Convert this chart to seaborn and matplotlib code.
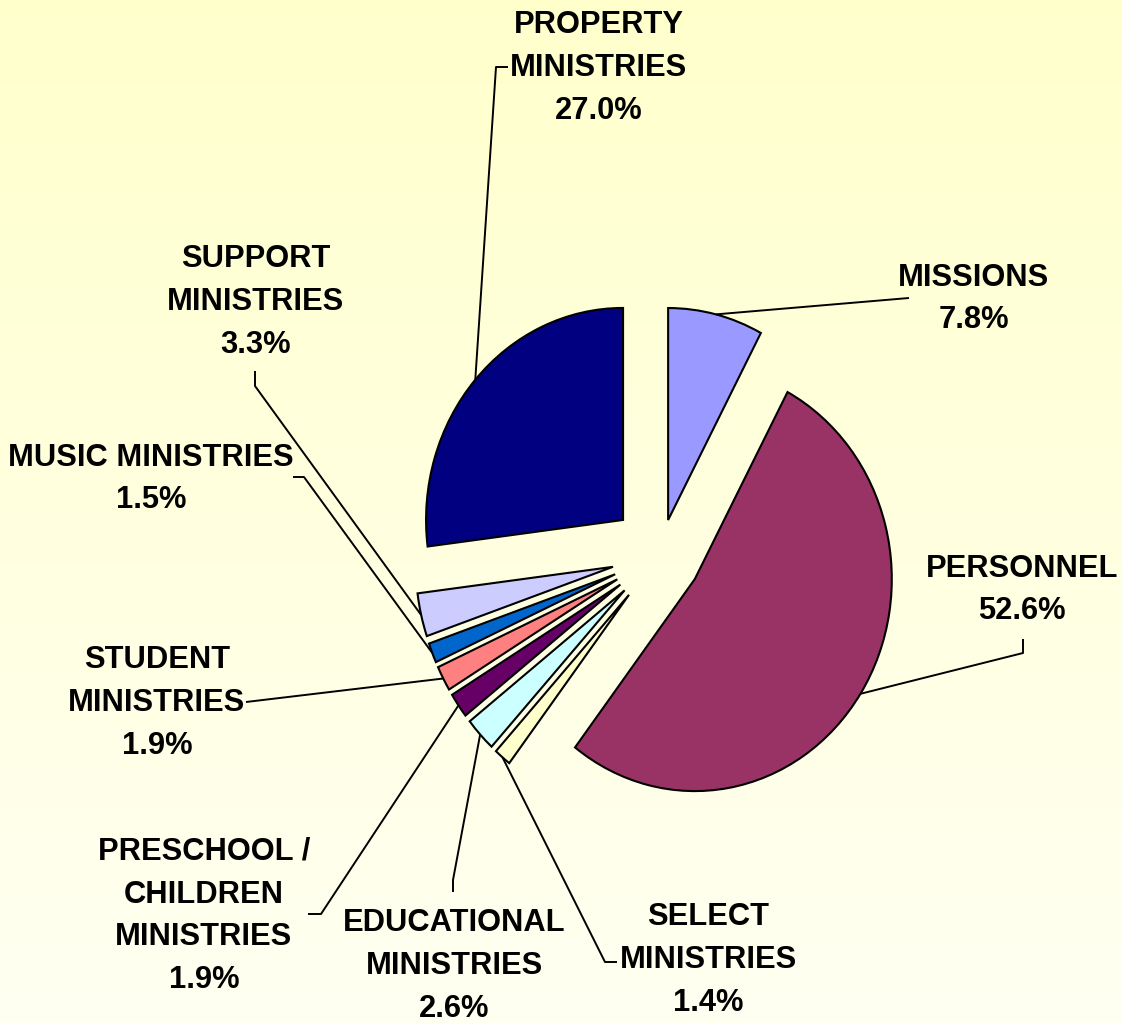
import numpy as np
import matplotlib
matplotlib.use("Agg")
import matplotlib.pyplot as plt
import seaborn as sns

# ==============================
# Data
# ==============================
categories = ["MISSIONS", "PERSONNEL", "SELECT MINISTRIES", "EDUCATIONAL MINISTRIES",
              "PRESCHOOL / CHILDREN MINISTRIES", "STUDENT MINISTRIES", "MUSIC MINISTRIES",
              "SUPPORT MINISTRIES", "PROPERTY MINISTRIES"]
shares = [7.8, 52.6, 1.4, 2.6, 1.9, 1.9, 1.5, 3.3, 27.0]
label_text = ["MISSIONS", "PERSONNEL", "SELECT\nMINISTRIES", "EDUCATIONAL\nMINISTRIES",
              "PRESCHOOL /\nCHILDREN\nMINISTRIES", "STUDENT\nMINISTRIES", "MUSIC MINISTRIES",
              "SUPPORT\nMINISTRIES", "PROPERTY\nMINISTRIES"]
colors = ["#9999FF", "#993366", "#FFFFCC", "#CCFFFF", "#660066",
          "#FF8080", "#0066CC", "#CCCCFF", "#000080"]
explode = [0.17, 0.21, 0.245, 0.245, 0.245, 0.245, 0.245, 0.245, 0.25]

# label layout in pixels (centre of text block), leader elbow/end in pixels
label_pos = [(974, 299), (1022, 590), (708, 960), (454, 966), (204, 916),
             (157, 703), (151, 479), (256, 302), (599, 68)]
leader_pts = [
    [(909, 298)],
    [(1023, 653), (1023, 639)],
    [(605, 962), (617, 962)],
    [(453, 880), (453, 892)],
    [(321, 914), (308, 914)],
    [(246, 702)],
    [(304, 477), (293, 477)],
    [(255, 386), (255, 371)],
    [(496, 67), (508, 67)],
]

# ==============================
# Figure
# ==============================
sns.set_theme(style="white")
plt.rcParams["font.family"] = ["Liberation Sans", "DejaVu Sans"]

W, H = 1122, 1024
cx, cy, rx, ry = 660, 555, 197, 212

fig = plt.figure(figsize=(W / 100, H / 100), dpi=100)
ax = fig.add_axes([0, 0, 1, 1])

xlim = (-cx / rx, (W - cx) / rx)
ylim = ((cy - H) / ry, cy / ry)

def px(x, y):
    return ((x - cx) / rx, (cy - y) / ry)

# background gradient
grad = np.linspace(0, 1, 256).reshape(-1, 1)
top = np.array([255, 255, 204]) / 255
bot = np.array([255, 255, 242]) / 255
img = top + (bot - top) * grad[:, :, None]
ax.imshow(img, extent=[xlim[0], xlim[1], ylim[0], ylim[1]], aspect="auto", zorder=0)

wedges, _ = ax.pie(shares, colors=colors, explode=explode, startangle=90,
                   counterclock=False, radius=1,
                   wedgeprops=dict(edgecolor="black", linewidth=1.5))
for w in wedges:
    w.set_zorder(2)

ax.set_aspect("auto")
ax.set_xlim(*xlim)
ax.set_ylim(*ylim)
ax.axis("off")

for w, txt, pct, lp, pts in zip(wedges, label_text, shares, label_pos, leader_pts):
    mid = np.deg2rad((w.theta1 + w.theta2) / 2)
    sx = w.center[0] + w.r * np.cos(mid)
    sy = w.center[1] + w.r * np.sin(mid)
    xs = [sx] + [px(*p)[0] for p in pts]
    ys = [sy] + [px(*p)[1] for p in pts]
    ax.plot(xs, ys, color="black", linewidth=1.4, zorder=3, solid_capstyle="butt")
    tx, ty = px(*lp)
    ax.text(tx, ty, f"{txt}\n{pct:.1f}%", ha="center", va="center",
            multialignment="center", fontsize=22.2, fontweight="bold",
            linespacing=1.56, color="black", zorder=4)

fig.savefig("out.png", dpi=100)
